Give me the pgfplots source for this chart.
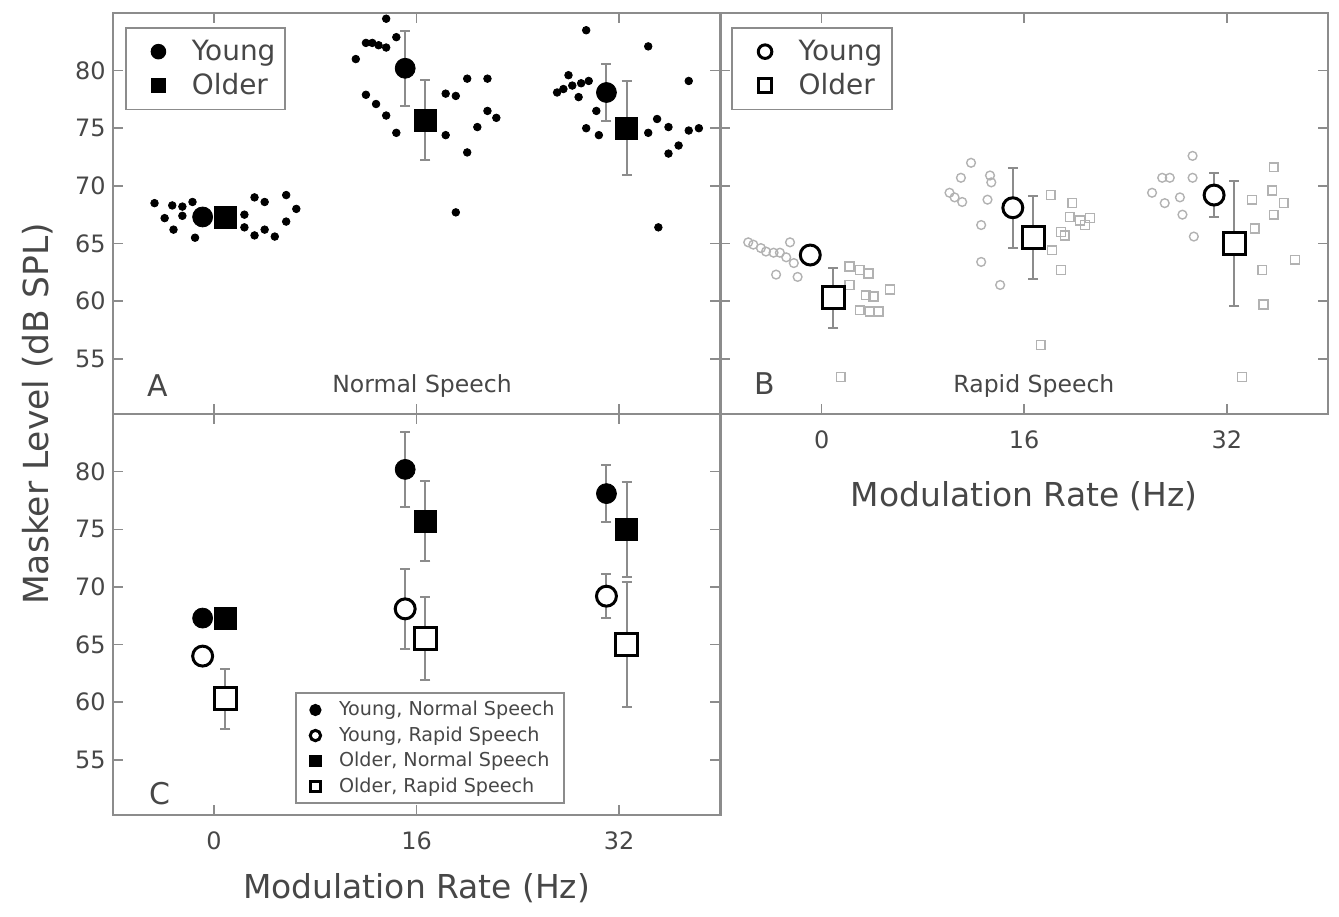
\documentclass[border=0pt]{standalone}
\usepackage{fontspec}
\setmainfont{DejaVu Sans}
\usepackage{pgfplots}
\pgfplotsset{compat=1.18}
\definecolor{frame}{gray}{0.55}
\definecolor{ebar}{gray}{0.55}
\definecolor{lt}{gray}{0.70}
\definecolor{txt}{gray}{0.28}

\tikzset{
  lbl/.style={font=\fontsize{15}{18}\selectfont, text=txt},
  sub/.style={font=\fontsize{11.8}{14}\selectfont, text=txt},
}

\pgfplotsset{
  panel/.style={
    width=304.5pt, height=201pt, scale only axis,
    xmin=-8, xmax=40, ymin=50.2, ymax=85,
    xtick={0,16,32}, ytick={55,60,...,80},
    tick align=inside, tick pos=both,
    major tick length=5pt,
    axis line style={frame, line width=1.2pt},
    tick style={frame, line width=0.8pt},
    /pgf/number format/assume math mode=true,
    tick label style={font=\fontsize{12}{14}\selectfont, text=txt},
    xticklabel style={yshift=-5pt},
    label style={font=\fontsize{16.5}{20}\selectfont, text=txt},
    legend cell align=left,
  },
  bigleg/.style={legend style={draw=frame, line width=1pt,
      font=\fontsize{14}{18}\selectfont, text=txt, row sep=1pt,
      inner xsep=3pt, inner ysep=4pt},
    legend image code/.code={\path (0cm,0cm) (0.95cm,0cm); \draw[##1] plot coordinates {(0.45cm,0cm)};}},
  pts/.style={only marks, mark=*, mark size=1.9pt, draw=black, fill=black, forget plot},
  ptsy/.style={only marks, mark=o, mark size=2.2pt, mark options={draw=lt, line width=0.7pt}, forget plot},
  ptso/.style={only marks, mark=square, mark size=2.2pt, mark options={draw=lt, line width=0.7pt}, forget plot},
  ebars/.style={error bars/.cd, y dir=both, y explicit,
    error bar style={ebar, line width=1pt},
    error mark options={ebar, rotate=90, mark size=2.5pt, line width=1pt}},
  yn/.style={only marks, mark=*, mark size=5pt, mark options={draw=black, fill=black}, ebars},
  on/.style={only marks, mark=square*, mark size=5.5pt, mark options={draw=black, fill=black}, ebars},
  yr/.style={only marks, mark=*, mark size=5pt, mark options={draw=black, fill=white, line width=1.5pt}, ebars},
  or/.style={only marks, mark=square*, mark size=5.5pt, mark options={draw=black, fill=white, line width=1.5pt}, ebars},
}

\begin{document}
\begin{tikzpicture}
% A: normal speech
\begin{axis}[panel, name=A, xticklabels={}, bigleg,
  legend style={at={(rel axis cs:0.02,0.965)}, anchor=north west},
  legend image post style={mark size=3.4pt}]
\addplot[pts] coordinates {
 (-4.7,68.5) (-3.9,67.2) (-3.3,68.3) (-3.2,66.2) (-2.5,68.2) (-2.5,67.4) (-1.7,68.6) (-1.5,65.5)
 (2.4,67.5) (2.4,66.4) (3.2,69.0) (4.0,68.6) (3.2,65.7) (4.0,66.2) (4.8,65.6) (5.7,69.2) (6.5,68.0) (5.7,66.9)
 (13.6,84.5) (12.0,82.4) (12.5,82.4) (13.0,82.2) (13.6,82.0) (14.4,82.9) (11.2,81.0) (12.0,77.9) (12.8,77.1)
 (13.6,76.1) (14.4,74.6) (20.0,79.3) (21.6,79.3) (18.3,78.0) (19.1,77.8) (21.6,76.5) (22.3,75.9) (20.8,75.1)
 (18.3,74.4) (20.0,72.9) (19.1,67.7)
 (29.4,83.5) (34.3,82.1) (37.5,79.1) (28.0,79.6) (27.1,78.1) (27.6,78.4) (28.3,78.7) (29.0,78.9) (29.6,79.1)
 (28.8,77.7) (30.2,76.5) (29.4,75.0) (30.4,74.4) (34.3,74.6) (35.0,75.8) (35.9,75.1) (37.5,74.8) (38.3,75.0)
 (36.7,73.5) (35.9,72.8) (35.1,66.4)};
\addplot[yn] coordinates {(-0.9,67.3) +- (0,0.5) (15.1,80.2) +- (0,3.25) (31.0,78.1) +- (0,2.45)};
\addlegendentry{Young}
\addplot[on] coordinates {(0.9,67.3) +- (0,0.9) (16.7,75.7) +- (0,3.45) (32.6,75.0) +- (0,4.1)};
\addlegendentry{Older}
\node[lbl] at (rel axis cs:0.074,0.07) {A};
\node[sub] at (rel axis cs:0.509,0.07) {Normal Speech};
\end{axis}

% B: rapid speech
\begin{axis}[panel, name=B, at={(A.north east)}, anchor=north west, yticklabels={},
  xlabel={Modulation Rate (Hz)}, xlabel style={yshift=-9.5pt}, bigleg,
  legend style={at={(rel axis cs:0.018,0.965)}, anchor=north west},
  legend image post style={mark size=3.4pt, line width=1.2pt}]
\addplot[ptsy] coordinates {
 (-5.8,65.1) (-5.4,64.9) (-4.8,64.6) (-4.4,64.3) (-3.8,64.2) (-3.3,64.2) (-2.8,63.8) (-2.5,65.1) (-2.2,63.3) (-3.6,62.3) (-1.9,62.1)
 (11.8,72.0) (11.0,70.7) (13.3,70.9) (13.4,70.3) (10.1,69.4) (10.5,69.0) (11.1,68.6) (13.1,68.8) (12.6,66.6) (12.6,63.4) (14.1,61.4)
 (29.3,72.6) (26.9,70.7) (27.5,70.7) (29.3,70.7) (26.1,69.4) (27.1,68.5) (28.3,69.0) (28.5,67.5) (29.4,65.6)};
\addplot[ptso] coordinates {
 (2.2,63.0) (3.0,62.7) (3.7,62.4) (2.2,61.4) (3.5,60.5) (4.1,60.4) (5.4,61.0) (3.0,59.2) (3.8,59.1) (4.5,59.1) (1.5,53.4)
 (18.1,69.2) (19.8,68.5) (19.6,67.3) (20.4,67.0) (21.2,67.2) (20.8,66.6) (18.9,66.0) (19.2,65.7) (18.2,64.4) (18.9,62.7) (17.3,56.2)
 (35.7,71.6) (34.0,68.8) (35.6,69.6) (36.5,68.5) (35.7,67.5) (34.2,66.3) (37.4,63.6) (34.8,62.7) (34.9,59.7) (33.2,53.4)};
\addplot[yr] coordinates {(-0.9,64.0) +- (0,0.5) (15.1,68.1) +- (0,3.45) (31.0,69.2) +- (0,1.9)};
\addlegendentry{Young}
\addplot[or] coordinates {(0.9,60.3) +- (0,2.6) (16.7,65.5) +- (0,3.6) (32.6,65.0) +- (0,5.45)};
\addlegendentry{Older}
\node[lbl] at (rel axis cs:0.073,0.075) {B};
\node[sub] at (rel axis cs:0.516,0.07) {Rapid Speech};
\end{axis}

% C: summary
\begin{axis}[panel, name=C, at={(A.south west)}, anchor=north west,
  xlabel={Modulation Rate (Hz)}, xlabel style={yshift=-4.5pt},
  legend style={at={(rel axis cs:0.30,0.027)}, anchor=south west, draw=frame, line width=1pt,
    font=\fontsize{9.6}{12.5}\selectfont, text=txt, row sep=0pt, inner ysep=2pt},
  legend image code/.code={\path (0cm,0cm) (0.55cm,0cm); \draw[#1] plot coordinates {(0.22cm,0cm)};},
  legend image post style={mark size=2.6pt, line width=0.9pt}]
\addplot[yn] coordinates {(-0.9,67.3) +- (0,0.5) (15.1,80.2) +- (0,3.25) (31.0,78.1) +- (0,2.45)};
\addlegendentry{Young, Normal Speech}
\addplot[yr] coordinates {(-0.9,64.0) +- (0,0.5) (15.1,68.1) +- (0,3.45) (31.0,69.2) +- (0,1.9)};
\addlegendentry{Young, Rapid Speech}
\addplot[on] coordinates {(0.9,67.3) +- (0,0.9) (16.7,75.7) +- (0,3.45) (32.6,75.0) +- (0,4.1)};
\addlegendentry{Older, Normal Speech}
\addplot[or] coordinates {(0.9,60.3) +- (0,2.6) (16.7,65.5) +- (0,3.6) (32.6,65.0) +- (0,5.45)};
\addlegendentry{Older, Rapid Speech}
\node[lbl] at (rel axis cs:0.077,0.055) {C};
\end{axis}

\node[text=txt, font=\fontsize{17.3}{20}\selectfont, rotate=90] at ([xshift=-37.5pt]A.south west) {Masker Level (dB SPL)};

\pgfresetboundingbox
\path[use as bounding box] ([shift={(-56.5pt,6.5pt)}]A.north west) rectangle ([shift={(5.5pt,-252pt)}]B.south east);
\end{tikzpicture}
\end{document}
